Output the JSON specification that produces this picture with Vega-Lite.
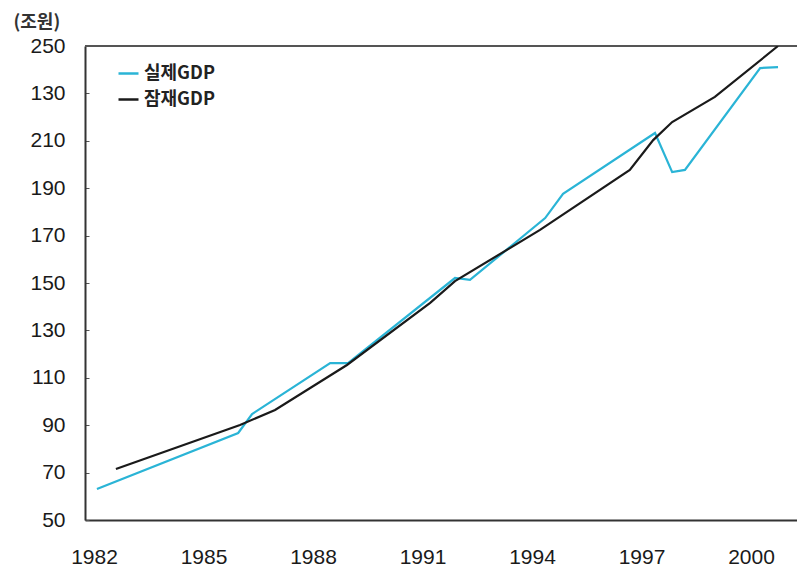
{
  "$schema": "https://vega.github.io/schema/vega-lite/v6.json",
  "width": 712,
  "height": 474,
  "autosize": {"type": "none"},
  "padding": {"left": 85, "top": 46, "right": 0, "bottom": 54},
  "background": "white",
  "config": {
    "view": {"stroke": null},
    "font": "Liberation Sans",
    "axis": {"labelFont": "Liberation Sans", "labelFontSize": 21, "labelColor": "#1a1a1a", "grid": false}
  },
  "data": {
    "values": [
      {"series": "실제GDP", "year": 1982.08, "value": 63.1},
      {"series": "실제GDP", "year": 1985.95, "value": 86.7},
      {"series": "실제GDP", "year": 1986.33, "value": 94.7},
      {"series": "실제GDP", "year": 1988.47, "value": 116.2},
      {"series": "실제GDP", "year": 1988.96, "value": 116.2},
      {"series": "실제GDP", "year": 1991.89, "value": 152.1},
      {"series": "실제GDP", "year": 1992.30, "value": 151.3},
      {"series": "실제GDP", "year": 1994.36, "value": 177.4},
      {"series": "실제GDP", "year": 1994.85, "value": 187.6},
      {"series": "실제GDP", "year": 1997.37, "value": 213.3},
      {"series": "실제GDP", "year": 1997.84, "value": 196.8},
      {"series": "실제GDP", "year": 1998.19, "value": 197.7},
      {"series": "실제GDP", "year": 2000.25, "value": 240.7},
      {"series": "실제GDP", "year": 2000.74, "value": 241.1},
      {"series": "잠재GDP", "year": 1982.60, "value": 71.5},
      {"series": "잠재GDP", "year": 1986.0, "value": 90.1},
      {"series": "잠재GDP", "year": 1986.96, "value": 96.4},
      {"series": "잠재GDP", "year": 1988.93, "value": 115.4},
      {"series": "잠재GDP", "year": 1991.21, "value": 141.6},
      {"series": "잠재GDP", "year": 1991.89, "value": 150.8},
      {"series": "잠재GDP", "year": 1994.22, "value": 172.4},
      {"series": "잠재GDP", "year": 1996.68, "value": 197.7},
      {"series": "잠재GDP", "year": 1997.32, "value": 210.3},
      {"series": "잠재GDP", "year": 1997.84, "value": 217.9},
      {"series": "잠재GDP", "year": 1999.01, "value": 228.5},
      {"series": "잠재GDP", "year": 2000.74, "value": 250.0}
    ]
  },
  "layer": [
    {
      "mark": {"type": "rule", "color": "#555", "strokeWidth": 2},
      "encoding": {"y": {"datum": 250, "type": "quantitative"}}
    },
    {
      "mark": {"type": "line", "strokeWidth": 2.2, "clip": true},
      "encoding": {
        "x": {
          "field": "year",
          "type": "quantitative",
          "scale": {"domain": [1981.753, 2001.26], "nice": false, "zero": false},
          "axis": {
            "title": null,
            "values": [1982, 1985, 1988, 1991, 1994, 1997, 2000],
            "format": "d",
            "ticks": false,
            "labelPadding": 26,
            "domainColor": "#333",
            "domainWidth": 2,
            "labelFlush": false
          }
        },
        "y": {
          "field": "value",
          "type": "quantitative",
          "scale": {"domain": [50, 250], "nice": false, "zero": false},
          "axis": {
            "title": "(조원)",
            "titleAngle": 0,
            "titleX": -72,
            "titleY": -24,
            "titleAlign": "left",
            "titleBaseline": "middle",
            "titleFont": "Noto Sans CJK KR",
            "titleFontSize": 18,
            "titleFontWeight": "bold",
            "titleColor": "#333",
            "values": [50, 70, 90, 110, 130, 150, 170, 190, 210, 230, 250],
            "labelExpr": "datum.value == 230 ? '130' : datum.label",
            "tickSize": -4,
            "tickColor": "#555",
            "labelPadding": 24,
            "domainColor": "#333",
            "domainWidth": 2
          }
        },
        "color": {
          "field": "series",
          "type": "nominal",
          "scale": {"domain": ["실제GDP", "잠재GDP"], "range": ["#2ab4d6", "#1a1a1a"]},
          "legend": {
            "title": null,
            "orient": "none",
            "legendX": 32,
            "legendY": 16,
            "symbolType": "stroke",
            "symbolSize": 400,
            "symbolStrokeWidth": 2.5,
            "labelFont": "Noto Sans CJK KR",
            "labelFontSize": 18,
            "labelFontWeight": "bold",
            "labelColor": "#222",
            "labelOffset": 4,
            "rowPadding": 5
          }
        }
      }
    }
  ]
}
